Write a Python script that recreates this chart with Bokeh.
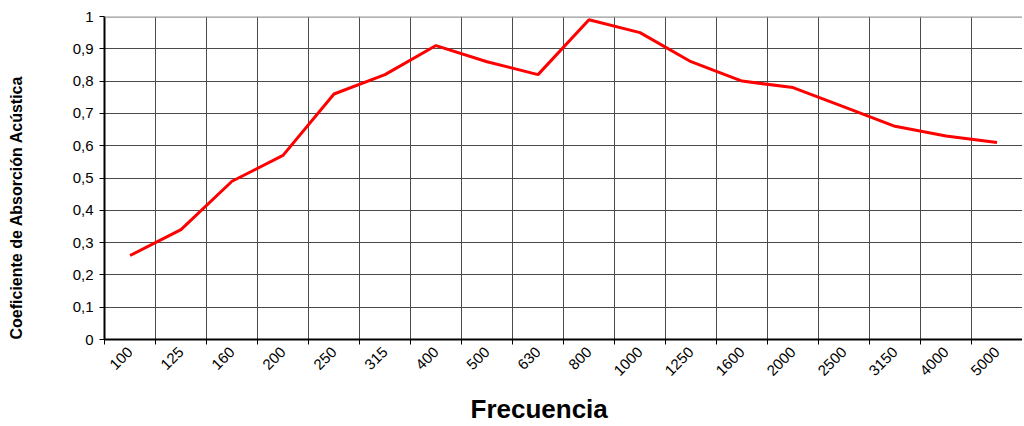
from bokeh.plotting import figure
from bokeh.models import FixedTicker, CustomJSTickFormatter, Span, Title, Range1d
from bokeh.embed import file_html
from bokeh.resources import INLINE
import math

freqs = ["100", "125", "160", "200", "250", "315", "400", "500", "630", "800",
         "1000", "1250", "1600", "2000", "2500", "3150", "4000", "5000"]
alpha = [0.26, 0.34, 0.49, 0.57, 0.76, 0.82, 0.91, 0.86, 0.82, 0.99,
         0.95, 0.86, 0.80, 0.78, 0.72, 0.66, 0.63, 0.61]
y_ticks = [0, 0.1, 0.2, 0.3, 0.4, 0.5, 0.6, 0.7, 0.8, 0.9, 1.0]

n = len(freqs)
centers = [i + 0.5 for i in range(n)]
bounds = list(range(n + 1))

FONT = "Liberation Sans"

p = figure(width=1022, height=426, output_backend="svg", toolbar_location=None,
           x_range=Range1d(0, n), y_range=Range1d(0, 1))
p.min_border_left = 104
p.min_border_right = 0
p.min_border_top = 16
p.min_border_bottom = 87
p.outline_line_color = None
p.background_fill_color = "white"
p.border_fill_color = "white"

# grid
p.xgrid.ticker = FixedTicker(ticks=bounds[1:-1])
p.ygrid.ticker = FixedTicker(ticks=y_ticks[1:-1])
p.xgrid.grid_line_color = "#4a4a4a"
p.ygrid.grid_line_color = "#4a4a4a"
p.xgrid.grid_line_width = 1
p.ygrid.grid_line_width = 1

p.add_layout(Span(location=1.0, dimension="width", line_color="#999999", line_width=2.5))

# x axis
xa = p.xaxis[0]
xa.ticker = FixedTicker(ticks=centers, minor_ticks=bounds)
xa.major_label_overrides = {c: f for c, f in zip(centers, freqs)}
xa.major_tick_line_color = None
xa.minor_tick_line_color = "black"
xa.minor_tick_in = 0
xa.minor_tick_out = 5
xa.axis_line_color = "black"
xa.axis_line_width = 2
xa.major_label_orientation = math.pi / 4
xa.major_label_text_font = FONT
xa.major_label_text_font_size = "15px"
xa.major_label_text_color = "black"
xa.major_label_standoff = 4

# y axis
ya = p.yaxis[0]
ya.ticker = FixedTicker(ticks=y_ticks)
ya.formatter = CustomJSTickFormatter(code="var s = (Math.round(tick*10)/10).toString(); return s.replace('.', ',');")
ya.major_tick_in = 0
ya.major_tick_out = 5
ya.major_tick_line_color = "black"
ya.minor_tick_line_color = None
ya.axis_line_color = "black"
ya.axis_line_width = 2
ya.major_label_text_font = FONT
ya.major_label_text_font_size = "15px"
ya.major_label_text_color = "black"
ya.major_label_standoff = 6

p.line(centers, alpha, line_color="#ff0000", line_width=3)

# axis titles (thin spacer titles set the gap between each axis and its title)
p.add_layout(Title(text=" ", text_font_size="1px", standoff=40), "left")
p.add_layout(Title(text="Coeficiente de Absorción Acústica", align="left", offset=0,
                   vertical_align="top",
                   text_font=FONT, text_font_size="16px", text_font_style="bold",
                   text_color="black", standoff=0), "left")
p.add_layout(Title(text=" ", text_font_size="1px", standoff=7), "below")
p.add_layout(Title(text="Frecuencia", align="left", offset=366, vertical_align="top",
                   text_font=FONT, text_font_size="26px", text_font_style="bold",
                   text_color="black", standoff=0), "below")

open("out.html", "w").write(file_html(p, INLINE))
